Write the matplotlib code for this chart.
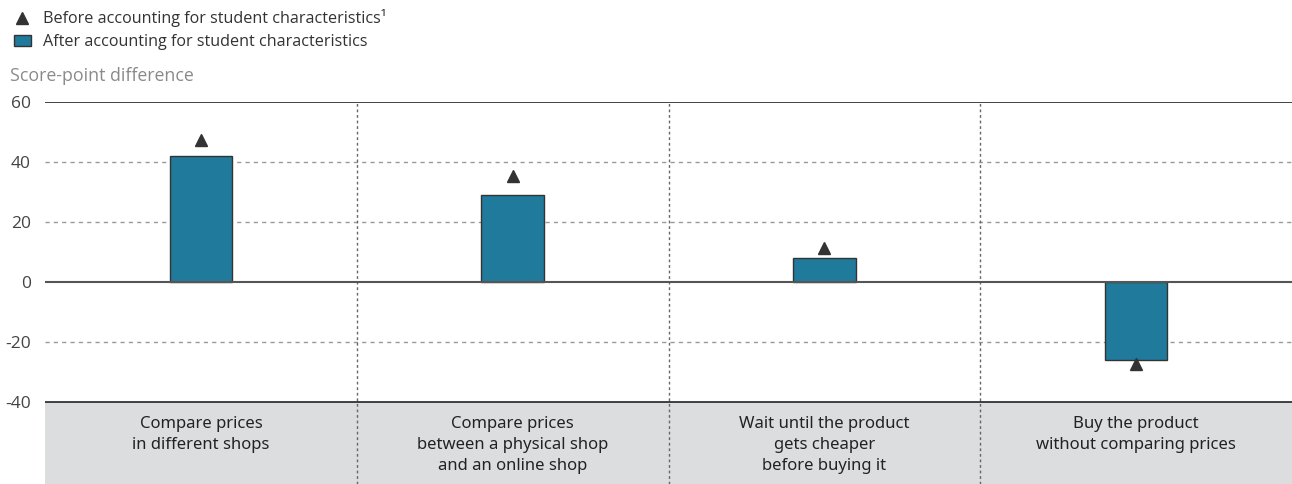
import matplotlib.pyplot as plt
from matplotlib.lines import Line2D
from matplotlib.patches import Patch
import numpy as np

plt.rcParams['font.family'] = ['Open Sans', 'DejaVu Sans']

categories = [
    "Compare prices\nin different shops",
    "Compare prices\nbetween a physical shop\nand an online shop",
    "Wait until the product\ngets cheaper\nbefore buying it",
    "Buy the product\nwithout comparing prices",
]
after_values = [42, 29, 8, -26]
before_values = [47.3, 35.2, 11.2, -27.3]
yticks = [60, 40, 20, 0, -20, -40]

bar_color = '#1F7A9C'
dark = '#333333'

fig = plt.figure(figsize=(12.92, 4.84), dpi=100)
ax = fig.add_axes([45 / 1292, 0.0, 1 - 45 / 1292, 1 - 102 / 484])

x = np.arange(len(categories))
ymin = -67.33
ax.set_xlim(-0.5, len(categories) - 0.5)
ax.set_ylim(ymin, 60)

# grey band with category labels
ax.axhspan(ymin, -40, color='#DCDDDF', lw=0, zorder=0)
for xi, label in zip(x, categories):
    ax.text(xi, -44.6, label, ha='center', va='top', fontsize=12,
            color='#222222', linespacing=1.42, family=['Noto Sans', 'DejaVu Sans'])

# gridlines
for v in [40, 20, -20]:
    ax.axhline(v, color='#999999', lw=1, ls=(0, (3, 3)), zorder=1)
ax.axhline(60, color='#222222', lw=1.2, zorder=3)
ax.axhline(0, color='#555555', lw=1.5, zorder=3)
ax.axhline(-40, color='#222222', lw=1.2, zorder=3)
for xv in x[:-1] + 0.5:
    ax.plot([xv, xv], [ymin, 60], color='#666666', lw=1, ls=(0, (2, 2)), zorder=1)

ax.bar(x, after_values, width=0.2, color=bar_color, edgecolor=dark, lw=1, zorder=2)
ax.plot(x, before_values, '^', color=dark, markersize=8, ls='none', zorder=4)

ax.set_yticks(yticks)
ax.set_yticklabels([str(v) for v in yticks], fontsize=12.5, color='#444444')
ax.tick_params(axis='y', length=0, pad=10)
ax.set_xticks([])
for s in ax.spines.values():
    s.set_visible(False)

fig.text(10 / 1292, 1 - 76 / 484, 'Score-point difference', fontsize=12.8,
         color='#8A8A8A', va='center', ha='left')

handles = [
    Line2D([], [], marker='^', color=dark, ls='none', markersize=9),
    Patch(facecolor=bar_color, edgecolor=dark),
]
fig.legend(handles, ['Before accounting for student characteristics\u00b9',
                     'After accounting for student characteristics'],
           loc='upper left', bbox_to_anchor=(0.003, 1.001), frameon=False,
           fontsize=11.6, handlelength=1.1, handletextpad=0.7,
           labelspacing=0.42, borderaxespad=0.2, labelcolor='#333333')

fig.savefig('out.png', dpi=100)
